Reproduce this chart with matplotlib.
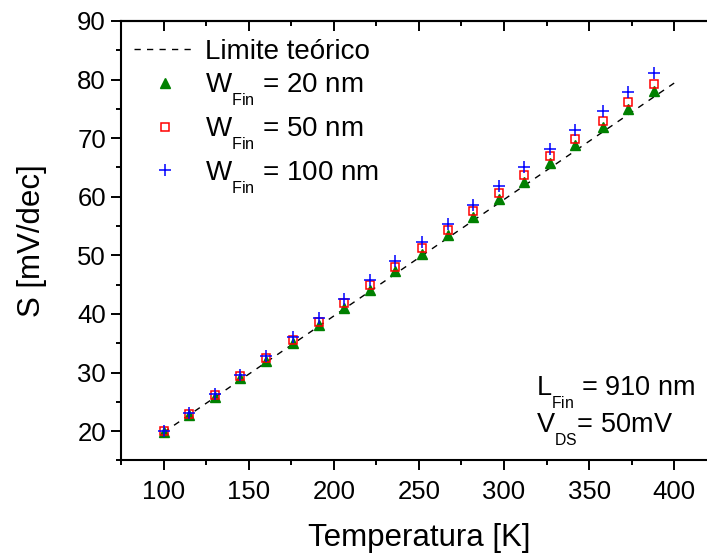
"""Subthreshold swing vs temperature for three fin widths."""

import matplotlib

matplotlib.use("Agg")
import matplotlib._mathtext as mathtext_internals
import matplotlib.pyplot as plt
import matplotlib.ticker as mticker
from matplotlib.lines import Line2D

plt.rcParams["font.family"] = ["Liberation Sans", "DejaVu Sans"]
plt.rcParams["mathtext.default"] = "regular"

# Origin-style subscripts: smaller and dropped further below the baseline
mathtext_internals.SHRINK_FACTOR = 0.58
mathtext_internals.FontConstantsBase.sub1 = 0.9

# data
temperature = [100, 115, 130, 145, 160, 176, 191, 206, 221, 236,
               252, 267, 282, 297, 312, 327, 342, 358, 373, 388]
s_w20 = [19.8, 22.8, 25.9, 29.0, 32.0, 35.1, 38.1, 41.0, 44.1, 47.3,
         50.3, 53.4, 56.6, 59.6, 62.6, 65.7, 68.8, 71.9, 75.0, 78.1]
s_w50 = [20.0, 23.0, 26.2, 29.4, 32.5, 35.6, 38.7, 41.8, 45.0, 48.1,
         51.3, 54.3, 57.5, 60.6, 63.7, 66.9, 69.9, 73.0, 76.2, 79.3]
s_w100 = [20.0, 23.1, 26.4, 29.6, 32.8, 36.0, 39.3, 42.6, 45.8, 49.0,
          52.2, 55.3, 58.6, 61.8, 65.0, 68.2, 71.4, 74.6, 77.9, 81.1]
limit_t = [100, 400]
limit_s = [19.8, 79.4]

labels = [
    "Limite teórico",
    "W$_{Fin}$ = 20 nm",
    "W$_{Fin}$ = 50 nm",
    "W$_{Fin}$ = 100 nm",
]

_GREEN = "#008000"
_RED = "#ff0000"
_BLUE = "#0000ff"

fig = plt.figure(figsize=(7.07, 5.56), dpi=100)
fig.patch.set_facecolor("white")
ax = fig.add_axes([0.1714, 0.1718, 0.8423, 0.7905])

ax.plot(limit_t, limit_s, color="black", lw=1.0, dashes=(4.5, 4.5), zorder=2)
ax.plot(temperature, s_w20, ls="none", marker="^", ms=7.5, color=_GREEN,
        mec=_GREEN, zorder=3)
ax.plot(temperature, s_w50, ls="none", marker="s", ms=5.5, mfc="none",
        mec=_RED, mew=1.1, zorder=4)
ax.plot(temperature, s_w100, ls="none", marker="+", ms=9, mec=_BLUE,
        mew=1.1, zorder=5)

ax.set_xlim(75, 425)
ax.set_ylim(15, 90)
ax.xaxis.set_minor_locator(mticker.MultipleLocator(25))
ax.yaxis.set_minor_locator(mticker.MultipleLocator(5))
ax.set_xticks([100, 150, 200, 250, 300, 350, 400])
ax.set_yticks([20, 30, 40, 50, 60, 70, 80, 90])

for spine in ax.spines.values():
    spine.set_linewidth(1.5)
ax.spines["right"].set_visible(False)
ax.tick_params(which="both", direction="out", width=1.4, labelsize=18.5,
               colors="black")
ax.tick_params(which="major", length=7)
ax.tick_params(which="minor", length=3.5)
ax.tick_params(axis="x", pad=7)
ax.tick_params(axis="y", pad=4)

top = ax.secondary_xaxis("top")
top.set_xticks([100, 150, 200, 250, 300, 350, 400])
top.xaxis.set_minor_locator(mticker.MultipleLocator(25))
top.tick_params(which="both", direction="in", width=1.4, labeltop=False)
top.tick_params(which="major", length=7)
top.tick_params(which="minor", length=3.5)
top.spines["top"].set_linewidth(1.5)

ax.set_xlabel("Temperatura [K]", fontsize=22.5)
ax.xaxis.set_label_coords(0.5, -0.143)
ax.set_ylabel("S [mV/dec]", fontsize=22.5)
ax.yaxis.set_label_coords(-0.125, 0.5)

handles = [
    Line2D([], [], color="black", lw=1.0, dashes=(4.5, 4.5)),
    Line2D([], [], ls="none", marker="^", ms=7.5, color=_GREEN),
    Line2D([], [], ls="none", marker="s", ms=5.5, mfc="none", mec=_RED, mew=1.1),
    Line2D([], [], ls="none", marker="+", ms=9, mec=_BLUE, mew=1.1),
]
ax.legend(
    handles,
    labels,
    loc="upper left",
    bbox_to_anchor=(0.022, 0.96),
    frameon=False,
    fontsize=20,
    handlelength=2.2,
    handletextpad=0.35,
    labelspacing=0.26,
    borderpad=0,
    borderaxespad=0,
)

ax.text(0.697, 0.147, "L$_{Fin}$ = 910 nm", transform=ax.transAxes,
        fontsize=19.5, ha="left", va="baseline")
ax.text(0.697, 0.063, "V$_{DS}$= 50mV", transform=ax.transAxes,
        fontsize=19.5, ha="left", va="baseline")

fig.savefig("out.png", dpi=100, facecolor=fig.get_facecolor())
plt.close(fig)
